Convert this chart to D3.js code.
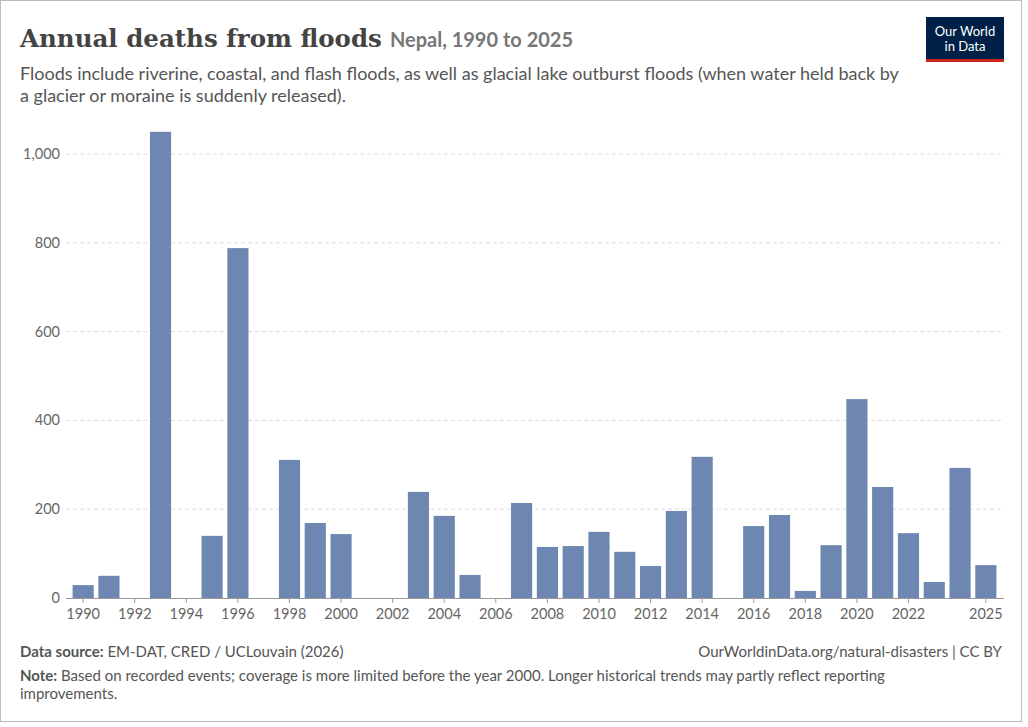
<!DOCTYPE html>
<html><head><meta charset="utf-8">
<script src="https://cdn.jsdelivr.net/npm/d3@7"></script>
<style>body{margin:0;background:#fff;font-family:Lato,sans-serif}</style>
</head><body>
<svg id="c" width="1028" height="727"></svg>
<script>
const years = d3.range(1990, 2026);
const deaths = [29,50,0,1050,0,140,788,0,311,169,144,0,0,239,185,52,0,214,115,117,149,104,72,196,318,0,162,187,16,119,448,250,146,36,293,74];
const yTicks = [0,200,400,600,800,1000];
const xTickYears = [1990,1992,1994,1996,1998,2000,2002,2004,2006,2008,2010,2012,2014,2016,2018,2020,2022,2025];

const svg = d3.select("#c");
svg.append("rect").attr("x",0.5).attr("y",0.5).attr("width",1021).attr("height",721).attr("fill","#fff").attr("stroke","#bbb");
svg.append("text").attr("x",20).attr("y",47).attr("font-family","'DejaVu Serif',serif").attr("font-weight","bold").attr("font-size",24.5).attr("fill","#444")
  .text("Annual deaths from floods").append("tspan").attr("font-family","Lato,sans-serif").attr("font-weight","bold").attr("font-size",20).attr("fill","#777").attr("dx",8).text("Nepal, 1990 to 2025");
const sub = ["Floods include riverine, coastal, and flash floods, as well as glacial lake outburst floods (when water held back by","a glacier or moraine is suddenly released)."];
sub.forEach((s,i)=>svg.append("text").attr("x",20).attr("y",80+i*22).attr("font-size",18).attr("fill","#555").text(s));
// logo
svg.append("rect").attr("x",926).attr("y",17).attr("width",78).attr("height",45).attr("fill","#002147");
svg.append("rect").attr("x",926).attr("y",59).attr("width",78).attr("height",3).attr("fill","#ce261e");
svg.append("text").attr("x",965).attr("y",36).attr("text-anchor","middle").attr("fill","#fff").attr("font-size",13).text("Our World");
svg.append("text").attr("x",965).attr("y",51).attr("text-anchor","middle").attr("fill","#fff").attr("font-size",13).text("in Data");

const x = d3.scaleBand().domain(years).range([70,999]).paddingInner(0.18).paddingOuter(0.1);
const y = d3.scaleLinear().domain([0,1000]).range([598,154]);
yTicks.forEach(t=>{
  if(t>0) svg.append("line").attr("x1",66).attr("x2",1004).attr("y1",y(t)).attr("y2",y(t)).attr("stroke","#ddd").attr("stroke-dasharray","4,3");
  svg.append("text").attr("x",60).attr("y",y(t)+5).attr("text-anchor","end").attr("font-size",14.5).attr("fill","#666").text(d3.format(",")(t));
});
svg.selectAll(".b").data(years).enter().append("rect")
  .attr("x",d=>x(d)).attr("width",x.bandwidth())
  .attr("y",(d,i)=>y(deaths[i])).attr("height",(d,i)=>y(0)-y(deaths[i])).attr("fill","#6d87b2");
svg.append("line").attr("x1",66).attr("x2",1004).attr("y1",598.5).attr("y2",598.5).attr("stroke","#999");
xTickYears.forEach(t=>{
  const cx = x(t)+x.bandwidth()/2;
  svg.append("line").attr("x1",cx).attr("x2",cx).attr("y1",598).attr("y2",603).attr("stroke","#999");
  svg.append("text").attr("x",cx).attr("y",619).attr("text-anchor","middle").attr("font-size",14.5).attr("fill","#666").text(t);
});
const f = svg.append("g").attr("font-size",15).attr("fill","#555");
f.append("text").attr("x",20).attr("y",657).html('<tspan font-weight="bold">Data source:</tspan> EM-DAT, CRED / UCLouvain (2026)');
f.append("text").attr("x",1002).attr("y",657).attr("text-anchor","end").text("OurWorldinData.org/natural-disasters | CC BY");
f.append("text").attr("x",20).attr("y",681).html('<tspan font-weight="bold">Note:</tspan> Based on recorded events; coverage is more limited before the year 2000. Longer historical trends may partly reflect reporting');
f.append("text").attr("x",20).attr("y",699).text("improvements.");
</script></body></html>
